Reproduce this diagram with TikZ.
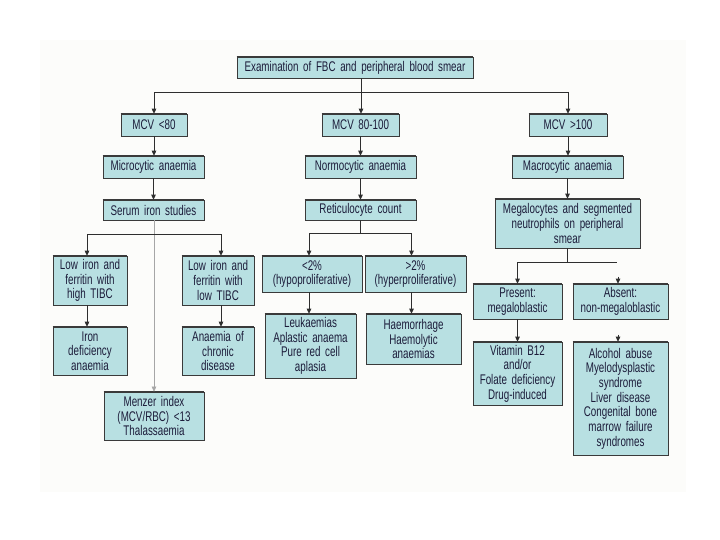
\documentclass[tikz,border=0pt]{standalone}
\usepackage{fontspec}
\setmainfont[FakeStretch=0.70,WordSpace=0.7]{Liberation Sans}
\usetikzlibrary{arrows.meta}
\definecolor{boxc}{HTML}{B8E0E2}
\definecolor{bord}{HTML}{3A3A3A}
\definecolor{txtc}{HTML}{1C1C3A}
\definecolor{bgc}{HTML}{FCFCFA}
\definecolor{linec}{HTML}{2E2E2E}
\tikzset{
  box/.style 2 args={rectangle, fill=boxc, draw=bord, line width=0.6pt,
    inner xsep=2pt, inner ysep=0pt, minimum width=#1pt, minimum height=#2pt,
    text width=#1pt-4pt, align=center, text=txtc,
    font=\fontsize{14}{14.7}\selectfont},
  topedge/.style={draw=bord, line width=1.8pt},
  conn/.style={draw=linec, line width=0.9pt},
  arr/.style={conn, -{Triangle[width=4.5pt,length=5pt]}},
  thinarr/.style={draw=gray!70, line width=0.5pt, -{Triangle[width=4.5pt,length=5pt]}}
}
\begin{document}
\begin{tikzpicture}[x=1pt,y=-1pt]
\useasboundingbox (0,0) rectangle (720,540);
\fill[white] (0,0) rectangle (720,540);
\fill[bgc] (40,40) rectangle (686,492);

% level 0
\node[box={236}{21}] (top) at (355,67.5) {Examination of FBC and peripheral blood smear};
% level 1
\node[box={66}{22}] (mcv1) at (154,125) {MCV <80};
\node[box={77}{22}] (mcv2) at (360.5,125) {MCV 80-100};
\node[box={78}{22}] (mcv3) at (568,125) {MCV >100};
% level 2
\node[box={101}{22}] (micro) at (153.5,167) {Microcytic anaemia};
\node[box={111}{22}] (normo) at (360.5,167) {Normocytic anaemia};
\node[box={111}{22}] (macro) at (567.5,167) {Macrocytic anaemia};
% level 3
\node[box={101}{20}] (serum) at (153.5,210) {Serum iron studies};
\node[box={111}{20}] (retic) at (360.5,210) {Reticulocyte count};
\node[box={145}{49}] (mega) at (567.5,223.5) {Megalocytes and segmented\\neutrophils on peripheral\\smear};
% level 4
\node[box={74}{49}] (low1) at (90,280.5) {Low iron and\\ferritin with\\high TIBC};
\node[box={72}{49}] (low2) at (218,280.5) {Low iron and\\ferritin with\\low TIBC};
\node[box={100}{36}] (lt2) at (312,274) {<2\%\\(hypoproliferative)};
\node[box={101}{36}] (gt2) at (415.5,274) {>2\%\\(hyperproliferative)};
\node[box={89}{35}] (present) at (517.5,301.5) {Present:\\megaloblastic};
\node[box={95}{35}] (absent) at (620.5,301.5) {Absent:\\non-megaloblastic};
% level 5
\node[box={74}{48}] (irondef) at (90,351) {Iron\\deficiency\\anaemia};
\node[box={72}{48}] (chronic) at (218,351) {Anaemia of\\chronic\\disease};
\node[box={91}{64}] (leuk) at (310.5,346) {Leukaemias\\Aplastic anaema\\Pure red cell\\aplasia};
\node[box={95}{50}] (haem) at (413.5,339) {Haemorrhage\\Haemolytic\\anaemias};
\node[box={89}{63}] (vitb) at (517.5,373.5) {Vitamin B12\\and/or\\Folate deficiency\\Drug-induced};
\node[box={95}{113}] (alco) at (620.5,398.5) {Alcohol abuse\\Myelodysplastic\\syndrome\\Liver disease\\Congenital bone\\marrow failure\\syndromes};
% level 6
\node[box={100}{48}] (menzer) at (154,416) {Menzer index\\(MCV/RBC) <13\\Thalassaemia};

\foreach \n in {top,mcv1,mcv2,mcv3,micro,normo,macro,serum,retic,mega,low1,low2,lt2,gt2,present,absent,irondef,chronic,leuk,haem,vitb,alco,menzer}
  \draw[topedge] (\n.north west) -- (\n.north east);

% connectors
\coordinate (j1) at (361,92);
\draw[arr] (top.south -| j1) -- (j1 |- mcv2.north);
\draw[arr] (j1) -| (mcv1.north);
\draw[arr] (j1) -| (mcv3.north);
\draw[arr] (mcv1.south) -- (micro.north -| mcv1.south);
\draw[arr] (mcv2.south) -- (normo.north -| mcv2.south);
\draw[arr] (mcv3.south) -- (macro.north -| mcv3.south);
\draw[arr] (micro.south -| serum.north) -- (serum.north);
\draw[arr] (normo.south -| retic.north) -- (retic.north);
\draw[arr] (macro.south -| mega.north) -- (mega.north);

\coordinate (j2) at (154,234);
\draw[thinarr] (serum.south -| j2) -- (menzer.north -| j2);
\draw[arr] (j2) -| ([xshift=-3pt]low1.north);
\draw[arr] (j2) -| ([xshift=3pt]low2.north);
\draw[arr] ([xshift=-3pt]low1.south) -- ([xshift=-3pt]irondef.north);
\draw[arr] ([xshift=3pt]low2.south) -- ([xshift=3pt]chronic.north);

\coordinate (j3) at (360.5,233);
\draw[conn] (retic.south) -- (j3);
\draw[arr] (j3) -| ([xshift=-3pt]lt2.north);
\draw[arr] (j3) -| ([xshift=-4pt]gt2.north);
\draw[arr] ([xshift=-3pt]lt2.south) -- ([xshift=-3pt]leuk.north -| lt2.south);
\draw[arr] ([xshift=-4pt]gt2.south) -- ([xshift=-4pt]haem.north -| gt2.south);

\coordinate (j4) at (567.5,262);
\coordinate (j4e) at (617,262);
\draw[conn] (mega.south) -- (j4);
\draw[arr] (j4) -| (present.north);
\draw[conn] (j4) -- (j4e);
\draw[arr] ([xshift=-2.5pt,yshift=7pt]absent.north) -- ([xshift=-2.5pt]absent.north);
\draw[arr] (present.south) -- (vitb.north);
\draw[arr] ([xshift=-2.5pt,yshift=7pt]alco.north) -- ([xshift=-2.5pt]alco.north);
\end{tikzpicture}
\end{document}
